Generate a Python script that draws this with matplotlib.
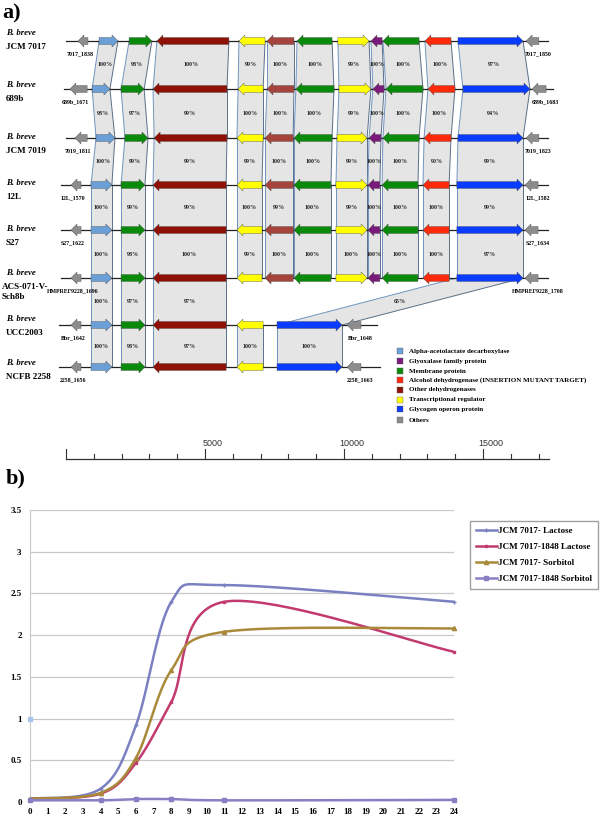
import numpy as np
import matplotlib
matplotlib.use('Agg')
import matplotlib.pyplot as plt
from matplotlib.patches import Polygon, Rectangle
from matplotlib.lines import Line2D

plt.rcParams['font.family'] = 'Liberation Serif'
plt.rcParams['font.weight'] = 'bold'

# ---------------- panel a: gene neighbourhoods (bp) ----------------
strains = ['JCM 7017', '689b', 'JCM 7019', '12L', 'S27', 'ACS-071-V-\nSch8b', 'UCC2003', 'NCFB 2258']
contig_span = [(0, 17340), (-70, 17520), (0, 17340), (-180, 17340), (-180, 17340),
               (-180, 17340), (-250, 11190), (-250, 11290)]

# (start, end, strand, category)
row_7017 = [(430, 790, -1, 'oth'), (1190, 1870, 1, 'ald'), (2270, 3090, 1, 'mem'), (3270, 5860, -1, 'odh'),
            (6220, 7160, -1, 'reg'), (7230, 8200, -1, 'odh2'), (8310, 9570, -1, 'mem'), (9780, 10900, 1, 'reg'),
            (10970, 11370, -1, 'gly'), (11400, 12700, -1, 'mem'), (12910, 13850, -1, 'adh'),
            (14100, 16440, 1, 'glg'), (16550, 17010, -1, 'oth')]
row_689b = [(140, 760, -1, 'oth'), (940, 1580, 1, 'ald'), (1980, 2810, 1, 'mem'), (3130, 5790, -1, 'odh'),
            (6190, 7090, -1, 'reg'), (7230, 8200, -1, 'odh2'), (8270, 9640, -1, 'mem'), (9820, 10970, 1, 'reg'),
            (11040, 11440, -1, 'gly'), (11510, 12840, -1, 'mem'), (13020, 13990, -1, 'adh'),
            (14280, 16690, 1, 'glg'), (16760, 17270, -1, 'oth')]
row_7019 = [(320, 760, -1, 'oth'), (1080, 1760, 1, 'ald'), (2120, 2950, 1, 'mem'), (3170, 5790, -1, 'odh'),
            (6150, 7090, -1, 'reg'), (7160, 8170, -1, 'odh2'), (8200, 9570, -1, 'mem'), (9750, 10830, 1, 'reg'),
            (10900, 11330, -1, 'gly'), (11400, 12700, -1, 'mem'), (12880, 13850, -1, 'adh'),
            (14100, 16440, 1, 'glg'), (16550, 17010, -1, 'oth')]
row_12L = [(180, 540, -1, 'oth'), (900, 1650, 1, 'ald'), (1980, 2840, 1, 'mem'), (3130, 5760, -1, 'odh'),
           (6150, 7050, -1, 'reg'), (7160, 8170, -1, 'odh2'), (8200, 9530, -1, 'mem'), (9710, 10830, 1, 'reg'),
           (10860, 11290, -1, 'gly'), (11370, 12660, -1, 'mem'), (12840, 13780, -1, 'adh'),
           (14060, 16440, 1, 'glg'), (16510, 16980, -1, 'oth')]
row_S27 = row_12L
row_ACS = row_12L
row_UCC = [(180, 540, -1, 'oth'), (900, 1650, 1, 'ald'), (1980, 2840, 1, 'mem'), (3130, 5760, -1, 'odh'),
           (6150, 7090, -1, 'reg'), (7590, 9930, 1, 'glg'), (10110, 10610, -1, 'oth')]
row_NCFB = row_UCC
rows = [row_7017, row_689b, row_7019, row_12L, row_S27, row_ACS, row_UCC, row_NCFB]

left_tags = ['7017_1838', '689b_1671', '7019_1811', '12L_1570', 'S27_1622', 'HMPREF9228_1696', 'Bbr_1642', '2258_1656']
right_tags = ['7017_1850', '689b_1683', '7019_1823', '12L_1582', 'S27_1634', 'HMPREF9228_1708', 'Bbr_1648', '2258_1663']

# identity between neighbouring rows: (upper row, gene in upper, gene in lower, identity)
full_pairs = [(1, 1), (2, 2), (3, 3), (4, 4), (5, 5), (6, 6), (7, 7), (8, 8), (9, 9), (10, 10), (11, 11)]
ident = [[100, 98, 100, 99, 100, 100, 99, 100, 100, 100, 97],
         [98, 97, 99, 100, 100, 100, 99, 100, 100, 100, 94],
         [100, 99, 99, 99, 100, 100, 99, 100, 100, 90, 99],
         [100, 99, 99, 100, 99, 100, 99, 100, 100, 100, 99],
         [100, 98, 100, 99, 100, 100, 100, 100, 100, 100, 97]]
links = []
for r, vals in enumerate(ident):
    for (a, b), v in zip(full_pairs, vals):
        links.append((r, a, b, v))
links += [(5, 1, 1, 100), (5, 2, 2, 97), (5, 3, 3, 97), (5, 11, 5, 65),
          (6, 1, 1, 100), (6, 2, 2, 98), (6, 3, 3, 97), (6, 4, 4, 100), (6, 5, 5, 100)]

colors = {'ald': '#6a9fd8', 'gly': '#7a1a7a', 'mem': '#0a8a0a', 'adh': '#ff2a0a', 'odh': '#8f1004',
          'odh2': '#a5443c', 'reg': '#ffff00', 'glg': '#0a3cff', 'oth': '#8c8c8c'}
legend_items = [('ald', 'Alpha-acetolactate decarboxylase'), ('gly', 'Glyoxalase family protein'),
                ('mem', 'Membrane protein'), ('adh', 'Alcohol dehydrogenase (INSERTION MUTANT TARGET)'),
                ('odh', 'Other dehydrogenases'), ('reg', 'Transcriptional regulator'),
                ('glg', 'Glycogen operon protein'), ('oth', 'Others')]

# ---------------- panel b: growth curves ----------------
hours = [0, 4, 6, 8, 11, 24]
wt_lactose = [0.04, 0.16, 0.92, 2.40, 2.60, 2.40]
mut_lactose = [0.04, 0.10, 0.47, 1.20, 2.40, 1.80]
wt_sorbitol = [0.04, 0.11, 0.53, 1.58, 2.04, 2.08]
mut_sorbitol = [0.02, 0.02, 0.035, 0.035, 0.02, 0.025]
stray_x, stray_y = [0], [1.0]
series_names = ['JCM 7017- Lactose', 'JCM 7017-1848 Lactose', 'JCM 7017- Sorbitol', 'JCM 7017-1848 Sorbitol']

# ---------------- layout ----------------
W, H = 600, 819
fig = plt.figure(figsize=(6, 8.19), dpi=100)
BP_PER_PX = 5000 / 139.0
def px(p):
    return (p - 66) * BP_PER_PX

A_H = 475
ax = fig.add_axes([0, 1 - A_H / H, 1, A_H / H])
ax.set_xlim(px(0), px(W))
ax.set_ylim(A_H, 0)
ax.axis('off')

row_y = [41, 89, 138, 185, 230, 278, 325, 367]
label_y = [33, 85, 137, 183, 229, 273, 319, 363]
shaft, head, head_len = 3.5, 6.0, 6 * BP_PER_PX

def arrow(x0, x1, strand, y, c):
    L = x1 - x0
    hl = min(head_len, L)
    if strand > 0:
        pts = [(x0, y - shaft), (x1 - hl, y - shaft), (x1 - hl, y - head), (x1, y),
               (x1 - hl, y + head), (x1 - hl, y + shaft), (x0, y + shaft)]
    else:
        pts = [(x1, y - shaft), (x0 + hl, y - shaft), (x0 + hl, y - head), (x0, y),
               (x0 + hl, y + head), (x0 + hl, y + shaft), (x1, y + shaft)]
    ax.add_patch(Polygon(pts, closed=True, fc=c, ec='#555555', lw=0.3, zorder=4))

for i, genes in enumerate(rows):
    y = row_y[i]
    ax.plot(contig_span[i], [y, y], color='#222222', lw=0.9, zorder=2)
    for (s, e, st, cat) in genes:
        arrow(s, e, st, y, colors[cat])
    g0, g1 = genes[0], genes[-1]
    ax.text((g0[0] + g0[1]) / 2 - 3 * BP_PER_PX, y + 13, left_tags[i], fontsize=4.2, ha='center', va='center')
    ax.text((g1[0] + g1[1]) / 2 + 6 * BP_PER_PX, y + 13, right_tags[i], fontsize=4.2, ha='center', va='center')
    ax.text(px(6), label_y[i], 'B. breve', fontsize=6.3, style='italic', ha='left', va='center')
    ax.text(px(2 if i == 5 else 6), label_y[i] + 10, strains[i], fontsize=6.5, ha='left', va='top',
            linespacing=1.3)

for (r, a, b, v) in links:
    ga, gb = rows[r][a], rows[r + 1][b]
    y0, y1 = row_y[r], row_y[r + 1]
    pts = [(ga[0], y0), (ga[1], y0), (gb[1], y1), (gb[0], y1)]
    ax.add_patch(Polygon(pts, closed=True, fc='#e5e5e5', ec='none', zorder=1))
    ax.plot([ga[0], gb[0]], [y0, y1], color='#7094c0', lw=0.7, zorder=1.5)
    ax.plot([ga[1], gb[1]], [y0, y1], color='#5a6f88', lw=0.7, zorder=1.5)
    cx = (ga[0] + ga[1] + gb[0] + gb[1]) / 4
    ax.text(cx, (y0 + y1) / 2, '%d%%' % v, fontsize=4.3, ha='center', va='center', color='#222222', zorder=3)

# legend of gene categories
for k, (cat, name) in enumerate(legend_items):
    ly = [351, 361, 371, 380, 390, 400, 409, 420][k]
    ax.add_patch(Rectangle((px(397), ly - 2.8), 5.5 * BP_PER_PX, 5.5, fc=colors[cat], ec='#666666', lw=0.3))
    ax.text(px(409), ly, name, fontsize=5.0, ha='left', va='center')

# scale bar
sb_y = 459
ax.plot([0, px(549)], [sb_y, sb_y], color='#333333', lw=0.9)
for t in range(0, 18000, 1000):
    tall = t % 5000 == 0
    ax.plot([t, t], [sb_y, sb_y - (10 if tall else 5)], color='#333333', lw=0.8)
    if tall and t > 0:
        ax.text(t + 8 * BP_PER_PX, 444, str(t), fontsize=6.5, family='Liberation Sans', weight='normal',
                ha='center', va='center', color='#333333')

fig.text(2 / W, 1 - 13 / H, 'a)', fontsize=16, ha='left', va='center')
fig.text(6 / W, 1 - 478 / H, 'b)', fontsize=16, ha='left', va='center')

# ---------------- panel b ----------------
bx = fig.add_axes([30 / W, (H - 802) / H, 424 / W, 292 / H])
bx.set_xlim(0, 24)
bx.set_ylim(0, 3.5)
sx, sy = 424 / 24.0, 292 / 3.5

def smooth(xs, ys, n=40):
    P = np.column_stack([np.asarray(xs, float) * sx, np.asarray(ys, float) * sy])
    out = [P[0]]
    for i in range(len(P) - 1):
        p0 = P[i - 1] if i > 0 else P[i]
        p1, p2 = P[i], P[i + 1]
        p3 = P[i + 2] if i + 2 < len(P) else P[i + 1]
        c1 = p1 + (p2 - p0) / 6
        c2 = p2 - (p3 - p1) / 6
        t = np.linspace(0, 1, n)[1:, None]
        seg = (1 - t) ** 3 * p1 + 3 * (1 - t) ** 2 * t * c1 + 3 * (1 - t) * t ** 2 * c2 + t ** 3 * p2
        out.extend(seg)
    out = np.array(out)
    return out[:, 0] / sx, out[:, 1] / sy

styles = [('#7b80c2', '+', 3.5), ('#c23a6e', 's', 2), ('#a88a3a', '^', 3), ('#8a7fc4', 's', 3.5)]
handles = []
for vals, name, (c, m, ms) in zip([wt_lactose, mut_lactose, wt_sorbitol, mut_sorbitol], series_names, styles):
    xs, ys = smooth(hours, vals)
    bx.plot(xs, ys, color=c, lw=1.8, zorder=3, solid_capstyle='round')
    bx.plot(hours, vals, ls='none', marker=m, ms=ms, color=c, mec=c, zorder=4, clip_on=False)
    handles.append(Line2D([], [], color=c, lw=1.8, marker=m, ms=ms, mec=c, label=name))
bx.plot(stray_x, stray_y, ls='none', marker='s', ms=3.5, color='#a9c3ec', clip_on=False, zorder=4)

bx.set_yticks(np.arange(0, 3.51, 0.5))
bx.set_yticklabels(['0', '0.5', '1', '1.5', '2', '2.5', '3', '3.5'])
bx.set_xticks(range(0, 25))
bx.grid(axis='y', color='#c8c8c8', lw=0.9)
bx.set_axisbelow(True)
for s in ['top', 'right', 'bottom']:
    bx.spines[s].set_visible(False)
bx.spines['left'].set_color('#c8c8c8')
bx.tick_params(length=0, labelsize=6.5, pad=4)
bx.tick_params(axis='y', pad=6)
for lab in bx.get_xticklabels() + bx.get_yticklabels():
    lab.set_fontweight('bold')

leg = fig.legend(handles=handles, loc='upper left', bbox_to_anchor=(465 / W, 1 - 516 / H),
                 fontsize=6.5, handlelength=2.3, handletextpad=0.1, labelspacing=0.85,
                 borderpad=0.7, fancybox=False, edgecolor='#a0a0a0', framealpha=1)
leg.get_frame().set_linewidth(1.0)

fig.savefig('out.png', dpi=100)
